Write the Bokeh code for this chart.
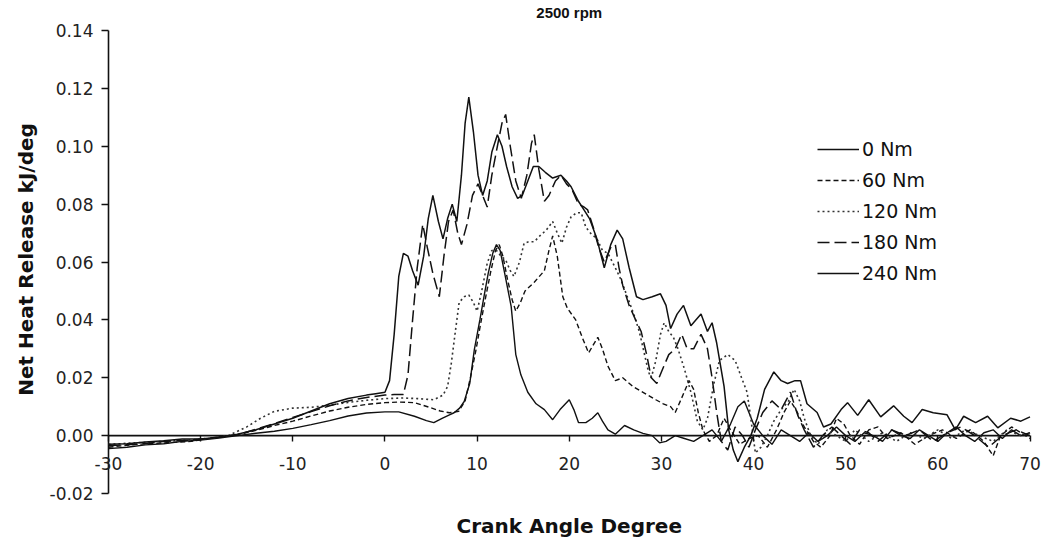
import math
from bokeh.plotting import figure
from bokeh.models import (FixedTicker, NumeralTickFormatter, Legend, LegendItem, Label)
from bokeh.embed import file_html
from bokeh.resources import INLINE

# ---------------- data ----------------
x_ticks = [-30, -20, -10, 0, 10, 20, 30, 40, 50, 60, 70]
y_ticks = [-0.02, 0.0, 0.02, 0.04, 0.06, 0.08, 0.10, 0.12, 0.14]

series_labels = ["0 Nm", "60 Nm", "120 Nm", "180 Nm", "240 Nm"]

a0 = [-30,-28,-26,-24,-22,-20,-18,-16,-14,-12,-10,-8,-6,-4,-2,0,1.5,3.2,4.5,5.3,
      6.2,7,7.5,8.1,8.6,9.2,9.7,10.3,10.8,11.2,11.7,12.1,12.5,13,13.7,14.2,14.75,15.5,16.4,17.3,
      18.2,19,20,20.5,21,21.8,22.5,23.1,23.6,24.2,25,26,27,28,29,29.8,30.5,31.5,32.5,33.5,
      34.5,35.5,36.5,37.5,38.3,39,40,41,42,43,44,45,46,47,48,49,50,51,52,53,
      54,55,56,57,58,59,60,61,62,63,64,65,66,67,68,69,70]
h0 = [-0.0045,-0.004,-0.0032,-0.0028,-0.002,-0.0015,-0.0008,0.0,0.0008,0.0015,0.0025,0.0038,0.0052,0.0068,0.0078,0.0082,0.0082,0.0067,0.0052,0.0045,
      0.006,0.0072,0.0079,0.0095,0.0118,0.018,0.0297,0.04,0.049,0.056,0.063,0.066,0.064,0.056,0.0446,0.028,0.021,0.015,0.011,0.009,
      0.0055,0.009,0.0124,0.009,0.0045,0.0045,0.006,0.0079,0.005,0.002,0.0005,0.0035,0.002,0.0008,0.0,-0.0025,-0.002,0.0,-0.001,-0.002,
      0.0,0.002,-0.002,0.004,0.01,0.012,0.004,0.0,-0.003,0.002,0.0,-0.002,0.001,-0.002,0.0,0.003,0.0,-0.002,0.001,0.0,
      -0.002,0.002,0.0,-0.001,0.002,0.0,-0.002,0.001,0.003,0.0,-0.002,0.001,0.002,-0.001,0.002,0.0,0.001]

a60 = [-30,-27,-24,-21,-19,-16.5,-14,-12,-10,-8,-6,-4,-2,0,1.5,3.2,5,6,7,8,
       8.7,9.3,9.9,10.4,11,11.5,12,12.4,12.8,13.3,13.8,14.2,14.7,15.2,16.2,17.3,17.8,18.2,18.7,19.3,
       19.8,20.7,21.4,22.1,23.1,23.6,24.2,25,25.8,26.9,28.1,29.4,30.2,31,31.5,32.2,33,33.5,34,34.5,
       35.2,36,36.8,37.5,38.5,39.5,40.5,41.5,42.5,43.3,44,44.6,45.5,46.5,47.3,48.3,49,49.8,50.5,51.5,
       52.5,53.5,54.5,56,57.5,59,60.5,62,63.5,65,66,66.8,68,69,70]
h60 = [-0.004,-0.003,-0.0025,-0.002,-0.001,0.0,0.0018,0.0035,0.005,0.0068,0.0085,0.0098,0.0108,0.0114,0.0116,0.0114,0.0096,0.0085,0.0079,0.0084,
       0.012,0.0204,0.03,0.039,0.049,0.057,0.064,0.066,0.062,0.054,0.047,0.043,0.046,0.05,0.053,0.057,0.064,0.069,0.062,0.048,
       0.044,0.04,0.034,0.0286,0.034,0.03,0.024,0.019,0.02,0.017,0.0148,0.0124,0.011,0.01,0.008,0.013,0.019,0.016,0.008,0.002,
       -0.002,0.0,0.006,0.002,-0.003,-0.001,0.0,-0.004,0.002,0.008,0.012,0.009,0.003,-0.002,-0.004,0.0,0.006,0.004,0.0,-0.003,
       0.002,0.003,-0.001,0.001,-0.003,0.0,0.002,-0.001,0.002,-0.002,-0.007,0.0,0.003,0.001,-0.001]

a120 = [-30,-27,-24,-21,-19,-17,-15,-13.5,-12,-10,-8,-6,-4,-2,0,2,3.5,5.3,6.3,6.8,
        7.2,7.6,8.05,8.6,9.1,9.6,10,10.5,11.1,11.6,12.1,12.6,13.1,13.6,14,14.6,15.1,15.6,16.2,16.8,
        17.5,18.2,18.7,19.2,19.7,20.2,20.8,21.3,21.8,22.3,23,23.6,24.2,25,25.6,26.3,27,27.6,28.1,28.6,
        28.9,29.4,29.9,30.3,30.8,31.3,31.8,32.5,33.2,33.9,34.5,35,35.7,36.3,37.2,38,38.7,39.3,39.7,40.2,
        40.8,41.5,42.2,43,43.8,44.4,45,45.5,46.2,47,48,49,50,51,52.5,54,55.5,57,58.5,60,
        61.5,63,64.5,66,67.5,69,70]
h120 = [-0.003,-0.0025,-0.002,-0.0015,-0.001,0.0,0.003,0.006,0.0084,0.0095,0.0098,0.0105,0.0115,0.0122,0.0128,0.013,0.0128,0.0124,0.014,0.017,
        0.025,0.035,0.046,0.048,0.0486,0.046,0.043,0.05,0.0596,0.064,0.064,0.062,0.0607,0.057,0.055,0.06,0.0665,0.067,0.067,0.069,
        0.071,0.074,0.07,0.0665,0.072,0.0756,0.077,0.077,0.072,0.07,0.068,0.064,0.063,0.058,0.054,0.048,0.042,0.036,0.029,0.022,
        0.02,0.026,0.035,0.039,0.036,0.034,0.03,0.023,0.015,0.005,0.002,0.006,0.018,0.026,0.028,0.026,0.02,0.015,0.006,-0.006,
        -0.004,0.0,0.005,0.009,0.012,0.016,0.012,0.006,0.0,-0.003,0.002,0.0,-0.002,0.002,-0.002,0.001,-0.002,0.001,-0.001,0.002,
        -0.001,0.002,0.0,-0.002,0.002,0.0,0.001]

a180 = [-30,-27,-24,-21,-18,-16,-14,-12,-10,-8,-6,-4,-2,0,1,2,2.5,3,3.5,4.1,
        4.6,5.2,5.9,6.4,6.9,7.4,7.9,8.3,8.9,9.5,10.1,10.6,11.1,11.6,12.2,12.7,13.1,13.6,14.2,14.8,
        15.4,15.9,16.2,16.7,17.3,17.8,18.5,19.1,19.7,20.3,21,21.6,22,22.6,23.2,23.8,24.5,25,25.4,25.8,
        26.5,27.2,27.8,28.4,28.9,29.5,30,30.8,31.5,32.2,32.8,33.5,34.3,35,35.5,36,36.5,37.2,38,38.8,
        39.5,40.2,41,42,43,44,44.8,45.5,46.5,47.5,48.5,49.5,50.5,51.5,52.5,53.5,55,56.5,58,59.5,
        61,62.5,64,65.5,67,68.5,70]
h180 = [-0.0035,-0.003,-0.002,-0.0015,-0.0005,0.0003,0.0022,0.0042,0.0063,0.0083,0.0103,0.012,0.0132,0.014,0.0142,0.0142,0.021,0.04,0.058,0.073,
        0.065,0.056,0.048,0.062,0.074,0.078,0.07,0.066,0.073,0.083,0.087,0.083,0.079,0.09,0.1,0.108,0.111,0.1,0.088,0.082,
        0.09,0.101,0.104,0.092,0.081,0.083,0.088,0.09,0.087,0.085,0.08,0.079,0.078,0.072,0.065,0.06,0.065,0.066,0.058,0.052,
        0.045,0.04,0.036,0.028,0.02,0.018,0.022,0.028,0.03,0.035,0.03,0.03,0.035,0.03,0.02,0.008,-0.002,-0.005,0.003,0.0,
        -0.004,0.002,0.008,0.012,0.009,0.015,0.007,0.002,-0.004,0.0,0.003,0.0,-0.003,0.002,0.001,-0.002,0.002,0.0,0.002,-0.002,
        0.001,0.003,0.0,-0.004,0.0,0.002,0.0]

a240 = [-30,-28,-26,-24,-22,-20,-18,-16,-14,-12,-10,-8,-6,-4,-2,-1,0,0.5,1,1.5,
        2,2.5,3,3.6,4.2,4.7,5.2,5.8,6.3,6.8,7.3,7.8,8.3,8.7,9.1,9.6,10.1,10.6,11.1,11.6,
        12.2,12.7,13.2,13.8,14.4,14.9,15.5,16.1,16.7,17.4,18.2,19.1,19.7,20.2,21,21.6,22.2,23,23.8,24.5,
        25.2,25.8,26.5,27.3,28,29,29.9,30.5,31,31.7,32.4,33.2,34.3,35,35.5,36,36.8,37.3,37.8,38.3,
        39,39.7,40.4,41.2,42.2,43,43.7,44.5,45.1,45.8,46.9,47.6,48.4,49.5,50.2,51.3,52.5,53.8,55.2,56.3,
        57.2,58.3,59.5,61,61.9,62.8,64.1,65.4,66.5,67.9,69,70]
h240 = [-0.003,-0.0028,-0.0022,-0.0018,-0.0012,-0.0012,-0.0006,0.0005,0.002,0.004,0.006,0.0085,0.011,0.0128,0.014,0.0145,0.015,0.019,0.035,0.055,
        0.063,0.062,0.057,0.052,0.062,0.075,0.083,0.074,0.068,0.075,0.080,0.074,0.09,0.108,0.117,0.105,0.09,0.083,0.088,0.098,
        0.104,0.1,0.093,0.086,0.082,0.083,0.088,0.093,0.093,0.091,0.089,0.090,0.088,0.086,0.081,0.078,0.075,0.068,0.058,0.066,
        0.071,0.068,0.058,0.048,0.047,0.048,0.049,0.045,0.037,0.042,0.045,0.038,0.042,0.036,0.039,0.032,0.017,0.002,-0.005,-0.009,
        -0.004,0.0,0.006,0.016,0.022,0.019,0.018,0.019,0.019,0.011,0.008,0.003,0.004,0.009,0.0114,0.007,0.0124,0.0065,0.0103,0.0067,
        0.0045,0.009,0.0079,0.0072,0.002,0.0067,0.0045,0.0067,0.0027,0.006,0.005,0.0065]

# ---------------- layout (the plot frame covers the whole canvas) ----------------
TITLE_FONT = "Liberation Sans"
FONT = "DejaVu Sans"
W, H = 1048, 547
PX_X0, PX_X1 = 108.0, 1029.5     # screen x of the first / last x tick
PY_Y1, PY_Y0 = 30.0, 493.0       # screen y of the top / bottom y tick
ppx = (PX_X1 - PX_X0) / (x_ticks[-1] - x_ticks[0])
ppy = (PY_Y0 - PY_Y1) / (y_ticks[-1] - y_ticks[0])

def sx(px):
    return x_ticks[0] + (px - PX_X0) / ppx

def sy(py):
    return y_ticks[-1] + (PY_Y1 - py) / ppy

p = figure(width=W, height=H, x_range=(sx(0), sx(W)), y_range=(sy(H), sy(0)),
           output_backend="svg", toolbar_location=None,
           min_border_left=0, min_border_right=0, min_border_top=0, min_border_bottom=0)
p.outline_line_color = None
p.grid.visible = False

# x axis crossing the y axis at y = 0
xa = p.xaxis[0]
xa.fixed_location = 0
xa.ticker = FixedTicker(ticks=x_ticks)
xa.formatter = NumeralTickFormatter(format="0")
xa.major_tick_in = 0
xa.major_tick_out = 6
xa.minor_tick_line_color = None
xa.axis_line_color = None
xa.major_tick_line_color = "#111111"
xa.major_tick_line_width = 1.4
xa.major_label_text_font = FONT
xa.major_label_text_font_size = "17px"
xa.major_label_text_color = "#222222"
xa.major_label_standoff = 15

# y axis standing at x = -30
ya = p.yaxis[0]
ya.fixed_location = x_ticks[0]
ya.ticker = FixedTicker(ticks=y_ticks)
ya.formatter = NumeralTickFormatter(format="0.00")
ya.major_tick_in = 0
ya.major_tick_out = 7
ya.minor_tick_line_color = None
ya.axis_line_color = None
ya.major_tick_line_color = "#111111"
ya.major_tick_line_width = 1.4
ya.major_label_text_font = FONT
ya.major_label_text_font_size = "17px"
ya.major_label_text_color = "#222222"
ya.major_label_standoff = 8

# axis rules between the first and last ticks
p.segment(x0=[x_ticks[0], x_ticks[0]], y0=[0.0, y_ticks[0]],
          x1=[x_ticks[-1], x_ticks[0]], y1=[0.0, y_ticks[-1]],
          line_color="#111111", line_width=1.6)

# ---------------- curves ----------------
styles = [
    (a0, h0, "solid", "#111111", 1.4),
    (a60, h60, "5 3", "#111111", 1.4),
    (a120, h120, "2 3", "#333333", 1.6),
    (a180, h180, "12 5", "#111111", 1.5),
    (a240, h240, "solid", "#111111", 1.5),
]
renderers = []
for (xs, ys, dash, col, w) in styles:
    r = p.line(xs, ys, line_color=col, line_width=w, line_dash=dash)
    renderers.append(r)

legend = Legend(items=[LegendItem(label=lab, renderers=[r]) for lab, r in zip(series_labels, renderers)],
                location=(817, 263), glyph_width=42, glyph_height=22, label_height=22,
                spacing=9, padding=0, margin=0, label_standoff=3,
                border_line_color=None, background_fill_alpha=0,
                label_text_font=FONT, label_text_font_size="19px", label_text_color="#111111")
p.add_layout(legend, "center")

# ---------------- titles ----------------
mid_x = (x_ticks[0] + x_ticks[-1]) / 2
p.add_layout(Label(x=mid_x, y=sy(12), text="2500 rpm", text_align="center",
                   text_baseline="middle", text_font=TITLE_FONT, text_font_size="15px",
                   text_font_style="bold", text_color="#111111"))
p.add_layout(Label(x=mid_x, y=sy(525), text="Crank Angle Degree", text_align="center",
                   text_baseline="middle", text_font=FONT, text_font_size="20px",
                   text_font_style="bold", text_color="#111111"))
p.add_layout(Label(x=sx(25), y=sy(259), text="Net Heat Release kJ/deg", angle=math.pi / 2,
                   text_align="center", text_baseline="middle", text_font=FONT,
                   text_font_size="20px", text_font_style="bold", text_color="#111111"))

open("out.html", "w").write(file_html(p, INLINE))
